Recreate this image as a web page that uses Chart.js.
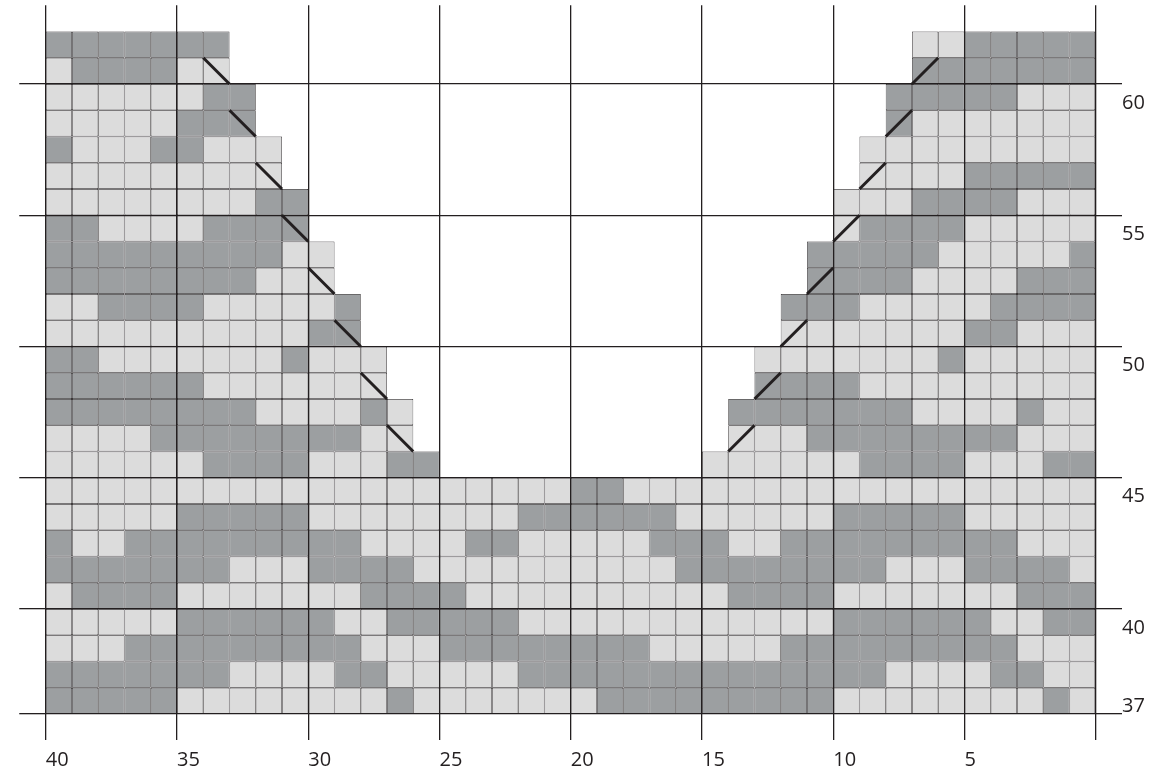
<!DOCTYPE html>
<html>
<head>
<meta charset="utf-8">
<script src="https://cdn.jsdelivr.net/npm/chart.js@4.4.1/dist/chart.umd.min.js"></script>
<style>
html,body{margin:0;padding:0;background:#ffffff;}
#wrap{width:1176px;height:775px;position:relative;}
</style>
</head>
<body>
<div id="wrap"><canvas id="c"></canvas></div>
<script>
// Row numbers, top to bottom
const rowNumbers = [62,61,60,59,58,57,56,55,54,53,52,51,50,49,48,47,46,45,44,43,42,41,40,39,38,37];
// Stitches from column 40 going right (D = dark, L = light)
const rowLeft = [
  'DDDDDDD','LDDDDLL','LLLLLLDD','LLLLLDDD','DLLLDDLLL','LLLLLLLLL','LLLLLLLLDD','DDLLLLDDDD',
  'DDDDDDDDDLL','DDDDDDDDLLL','LLDDDDLLLLLD','LLLLLLLLLLDD','DDLLLLLLLDLLL','DDDDDDLLLLLLL',
  'DDDDDDDDLLLLDL','LLLLDDDDDDDDLL','LLLLLLDDDDLLLDD',
  'LLLLLLLLLLLLLL' + 'LLLLLLDDLLLLL' + 'LLLLLLLLLLLLL',
  'LLLLLDDDDDLLLL' + 'LLLLDDDDDDLLL' + 'LLLDDDDDLLLLL',
  'DLLDDDDDDDDDLL' + 'LLDDLLLLLDDDL' + 'LDDDDDDDDDLLL',
  'DDDDDDDLLLDDDD' + 'LLLLLLLLLLDDD' + 'DDDDDLLLDDDDL',
  'LDDDDLLLLLLLDD' + 'DDLLLLLLLLLLD' + 'DDDLLLLLLLDDD',
  'LLLLLDDDDDDLLD' + 'DDDDLLLLLLLLL' + 'LLLDDDDDDLLDD',
  'LLLDDDDDDDDDLL' + 'LDDDDDDDDLLLL' + 'LDDDDDDDDDLLL',
  'DDDDDDDLLLLDDL' + 'LLLLDDDDDDDDD' + 'DDDDDLLLLDDLL',
  'DDDDDLLLLLLLLD' + 'LLLLLLLDDDDDD' + 'DDDLLLLLLLLDL'
];
// Stitches ending at column 1 (right side of the neckline)
const rowRight = [
  'LLDDDDD','DDDDDDD','DDDDDLLL','DLLLLLLL','LLLLLLLLL','LLLLDDDDD','LLLDDDDLLL','LDDDDLLLLL',
  'DDDDDLLLLLD','DDDDLLLLDDD','DDDLLLLLDDDD','LLLLLLLDDLLL','LLLLLLLDLLLLL','DDDDLLLLLLLLL',
  'DDDDDDDLLLLDLL','LLLDDDDDDDDLLL','LLLLLLDDDDLLLDD',
  '','','','','','','','',''
];
// Rows where the neckline decrease is marked with a diagonal
const shapingRows = [61,59,57,55,53,51,49,47];
const xTickValues = [40,35,30,25,20,15,10,5,0];
const xTickLabels = ['40','35','30','25','20','15','10','5',''];
const yGridValues = [60,55,50,45,40,36];
const yTickRows = [60,55,50,45,40,37];
const yTickLabels = ['60','55','50','45','40','37'];

const INK = '#231f20';
const DARK = '#9c9fa1';
const LIGHT = '#dcdcdc';

const darkCells = [], lightCells = [];
rowNumbers.forEach((r, k) => {
  const left = rowLeft[k], right = rowRight[k];
  const s = left + '.'.repeat(Math.max(0, 40 - left.length - right.length)) + right;
  if (s.length !== 40) console.error('row', r, 'length', s.length);
  for (let i = 0; i < 40; i++) {
    const col = 40 - i;
    const cell = {x: [col - 1, col], y: r - 0.5};
    if (s[i] === 'D') darkCells.push(cell);
    else if (s[i] === 'L') lightCells.push(cell);
  }
});

const segments = [];
shapingRows.forEach(r => {
  const k = rowNumbers.indexOf(r);
  const leftCol = 41 - rowLeft[k].length;
  const rightCol = rowRight[k].length;
  segments.push([{x: leftCol, y: r}, {x: leftCol - 1, y: r - 1}]);
  segments.push([{x: rightCol - 1, y: r}, {x: rightCol, y: r - 1}]);
});

Chart.defaults.font.family = "'Open Sans', 'Noto Sans', sans-serif";
Chart.defaults.font.size = 20;
Chart.defaults.color = INK;

const cellStyle = {
  type: 'bar', borderColor: INK, borderWidth: 0.7, borderSkipped: false,
  inflateAmount: 0, barPercentage: 1, categoryPercentage: 1, grouped: false, order: 2
};

const datasets = [
  Object.assign({}, cellStyle, {label: 'dark', data: darkCells, backgroundColor: DARK}),
  Object.assign({}, cellStyle, {label: 'light', data: lightCells, backgroundColor: LIGHT})
];
segments.forEach((seg, i) => {
  datasets.push({
    type: 'line', label: 'dec' + i, data: seg, borderColor: INK, borderWidth: 3,
    pointRadius: 0, pointHoverRadius: 0, fill: false, tension: 0, order: 0,
    borderCapStyle: 'butt'
  });
});

const gridBase = {color: INK, lineWidth: 1.3, tickColor: INK, tickWidth: 1.3, z: 1, offset: false};
const noPad = s => { s.paddingTop = 0; s.paddingBottom = 0; s.paddingLeft = 0; s.paddingRight = 0; };

new Chart(document.getElementById('c'), {
  type: 'bar',
  data: {datasets},
  options: {
    indexAxis: 'y',
    responsive: true,
    maintainAspectRatio: false,
    animation: false,
    events: [],
    layout: {padding: {left: 19.25, top: 5.25, right: 0, bottom: 0}},
    plugins: {legend: {display: false}, tooltip: {enabled: false}},
    scales: {
      x: {
        type: 'linear', min: 0, max: 40, reverse: true, position: 'bottom', offset: false,
        afterBuildTicks: s => { s.ticks = xTickValues.map(v => ({value: v})); },
        afterFit: s => { s.height = 61; noPad(s); },
        grid: Object.assign({}, gridBase, {drawTicks: true, tickLength: 26}),
        border: {display: false},
        ticks: {align: 'start', padding: 8, color: INK, font: {size: 20}, maxRotation: 0, autoSkip: false,
                callback: (v, i) => xTickLabels[i]}
      },
      y: {
        type: 'linear', min: 36, max: 63, position: 'left', offset: false,
        afterBuildTicks: s => { s.ticks = yGridValues.map(v => ({value: v})); },
        afterFit: s => { s.width = 26.5; noPad(s); },
        grid: Object.assign({}, gridBase, {drawTicks: true, tickLength: 26.5}),
        border: {display: false},
        ticks: {display: false}
      },
      y3: {
        type: 'linear', axis: 'y', min: 36, max: 63, position: 'right', weight: 0, offset: false,
        afterBuildTicks: s => { s.ticks = yGridValues.map(v => ({value: v})); },
        afterFit: s => { s.width = 26.25; noPad(s); },
        grid: Object.assign({}, gridBase, {drawOnChartArea: false, drawTicks: true, tickLength: 26.25}),
        border: {display: false},
        ticks: {display: false}
      },
      y2: {
        type: 'linear', axis: 'y', min: 36, max: 63, position: 'right', weight: 1, offset: false,
        afterBuildTicks: s => { s.ticks = yTickRows.map(r => ({value: r - 0.72})); },
        afterFit: s => { s.width = 54; noPad(s); },
        grid: {display: false, drawTicks: false, offset: false},
        border: {display: false},
        ticks: {padding: 0, color: INK, font: {size: 20}, autoSkip: false,
                callback: (v, i) => yTickLabels[i]}
      }
    }
  }
});
</script>
</body>
</html>
